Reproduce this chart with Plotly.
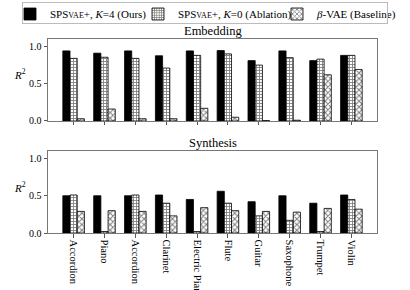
import plotly.graph_objects as go
from plotly.subplots import make_subplots

categories = ["Accordion", "Piano", "Accordion", "Clarinet", "Electric Piano",
              "Flute", "Guitar", "Saxophone", "Trumpet", "Violin"]

emb_ours = [0.94, 0.91, 0.94, 0.875, 0.94, 0.945, 0.81, 0.94, 0.81, 0.88]
emb_abl = [0.84, 0.855, 0.84, 0.71, 0.88, 0.90, 0.75, 0.85, 0.83, 0.88]
emb_base = [0.03, 0.16, 0.03, 0.03, 0.17, 0.05, 0.005, 0.01, 0.62, 0.69]

syn_ours = [0.50, 0.50, 0.50, 0.51, 0.45, 0.56, 0.42, 0.50, 0.40, 0.51]
syn_abl = [0.51, 0.02, 0.51, 0.40, 0.02, 0.40, 0.23, 0.17, 0.02, 0.45]
syn_base = [0.29, 0.30, 0.29, 0.23, 0.34, 0.30, 0.29, 0.28, 0.33, 0.32]

yticks = [0.0, 0.5, 1.0]

names = ["SPS<span style='font-size:8px'>VAE</span>+, <i>K</i>=4 (Ours)",
         "SPS<span style='font-size:8px'>VAE</span>+, <i>K</i>=0 (Ablation)",
         "<i>β</i>-VAE (Baseline)"]

FONT = "Liberation Serif"
x = list(range(len(categories)))

# figure geometry (pixels) used to place paper-coordinate items
W, H, ML, MR, MT, MB = 410, 290, 48, 33, 39, 57
PW, PH = W - ML - MR, H - MT - MB


def px(xp):
    return (xp - ML) / PW


def py(yp):
    return (H - MB - yp) / PH


fig = make_subplots(rows=2, cols=1, vertical_spacing=0.155)

styles = [
    dict(color="black", pattern=None),
    dict(color="white", pattern=dict(shape="+", fgcolor="black", size=3, solidity=0.5)),
    dict(color="white", pattern=dict(shape="x", fgcolor="black", size=4, solidity=0.45)),
]
legend_ids = ["legend", "legend2", "legend3"]

for row, series in [(1, [emb_ours, emb_abl, emb_base]), (2, [syn_ours, syn_abl, syn_base])]:
    for i, vals in enumerate(series):
        marker = dict(color=styles[i]["color"], line=dict(color="black", width=0.8))
        if styles[i]["pattern"] is not None:
            marker["pattern"] = styles[i]["pattern"]
        fig.add_trace(go.Bar(x=x, y=vals, name=names[i], marker=marker,
                             showlegend=(row == 1), legend=legend_ids[i]),
                      row=row, col=1)

leg_common = dict(orientation="h", xanchor="left", yanchor="middle", y=py(14),
                  bgcolor="rgba(255,255,255,0)", borderwidth=0, itemwidth=30,
                  font=dict(size=11, family=FONT))

fig.update_layout(
    width=W, height=H,
    margin=dict(l=ML, r=MR, t=MT, b=MB, autoexpand=False),
    barmode="group", bargap=0.3, bargroupgap=0,
    plot_bgcolor="white", paper_bgcolor="white",
    font=dict(family=FONT, size=10, color="black"),
    legend=dict(x=px(10), **leg_common),
    legend2=dict(x=px(138), **leg_common),
    legend3=dict(x=px(277), **leg_common),
)

axis_common = dict(showline=True, linecolor="#777", linewidth=1, mirror=True,
                   ticks="outside", ticklen=3.5, tickcolor="#555", showgrid=False,
                   zeroline=False)

for r in (1, 2):
    fig.update_xaxes(range=[-0.83, 9.83], tickvals=x, ticktext=categories,
                     tickangle=90, tickfont=dict(size=10.5), row=r, col=1, **axis_common)
    fig.update_yaxes(range=[0, 1.1], tickvals=yticks, ticktext=["0.0", "0.5", "1.0"],
                     tickfont=dict(size=10), row=r, col=1, **axis_common)

fig.update_xaxes(showticklabels=False, row=1, col=1)

ann_common = dict(xref="paper", yref="paper", showarrow=False,
                  xanchor="center", yanchor="middle")

# legend frame: an empty, transparent annotation box with a light border
fig.add_annotation(text=" ", x=px(205), y=py(13), width=364, height=20,
                   bordercolor="#bbbbbb", borderwidth=1, borderpad=0,
                   bgcolor="rgba(255,255,255,0)", **ann_common)

fig.add_annotation(text="Embedding", x=0.5, y=py(31), font=dict(size=12.5, family=FONT),
                   **ann_common)
fig.add_annotation(text="Synthesis", x=0.5, y=py(143), font=dict(size=12.5, family=FONT),
                   **ann_common)
fig.add_annotation(text="<i>R</i><sup>2</sup>", x=px(20), y=py(74),
                   font=dict(size=11, family=FONT), **ann_common)
fig.add_annotation(text="<i>R</i><sup>2</sup>", x=px(20), y=py(187),
                   font=dict(size=11, family=FONT), **ann_common)

fig.write_html("out.html", config={"displayModeBar": False},
               post_script="document.body.style.margin='0';")
